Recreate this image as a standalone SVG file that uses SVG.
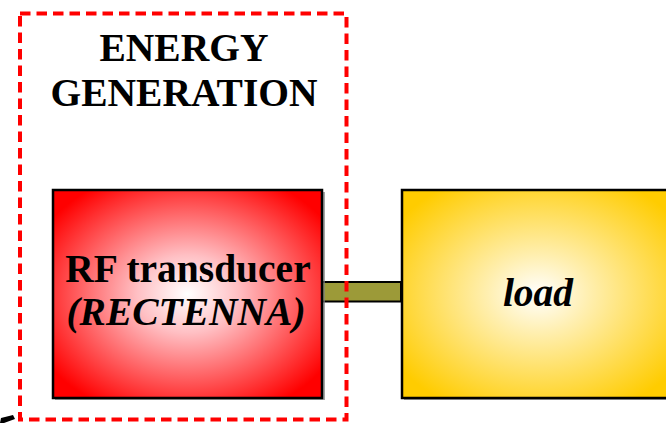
<svg xmlns="http://www.w3.org/2000/svg" width="666" height="423" viewBox="0 0 666 423">
  <style>
    .t { font-family: "Liberation Serif", "Times New Roman", serif; font-weight: bold; font-size: 39.5px; fill: #000; text-anchor: middle; }
    .i { font-style: italic; }
    .box { stroke: #000; stroke-width: 2.5; }
    .shadow { fill: #808080; opacity: 0.7; }
  </style>
  <defs>
    <radialGradient id="gRed" cx="0.5" cy="0.5" r="0.62">
      <stop offset="0" stop-color="#FFFFFF"/>
      <stop offset="0.3" stop-color="#FFC0C4"/>
      <stop offset="1" stop-color="#FF0000"/>
    </radialGradient>
    <radialGradient id="gYel" cx="0.5" cy="0.5" r="0.62">
      <stop offset="0" stop-color="#FFFFFF"/>
      <stop offset="0.3" stop-color="#FFEFB0"/>
      <stop offset="1" stop-color="#FFCC00"/>
    </radialGradient>
  </defs>

  <g id="connectors">
    <rect x="322" y="282" width="79" height="19.5" fill="#9C9A38" stroke="#000" stroke-width="2"/>
    <polygon points="0,423 1,418 13,415 15,419 4,423" fill="#000"/>
  </g>

  <g id="rf-transducer">
    <rect class="shadow" x="55" y="192" width="270" height="208"/>
    <rect class="box" x="53" y="190" width="269" height="208" fill="url(#gRed)"/>
    <text class="t" x="188" y="282">RF transducer</text>
    <text class="t i" x="186" y="325">(RECTENNA)</text>
  </g>

  <g id="load">
    <rect class="shadow" x="404" y="192" width="270" height="208"/>
    <rect class="box" x="402" y="190" width="272" height="208" fill="url(#gYel)"/>
    <text class="t i" x="538" y="306">load</text>
  </g>

  <g id="energy-generation">
    <rect x="20" y="13.5" width="326.5" height="406" fill="none" stroke="#FF0000" stroke-width="4" stroke-dasharray="10.5,6"/>
    <text class="t" x="184" y="61">ENERGY</text>
    <text class="t" x="184" y="106">GENERATION</text>
  </g>
</svg>
